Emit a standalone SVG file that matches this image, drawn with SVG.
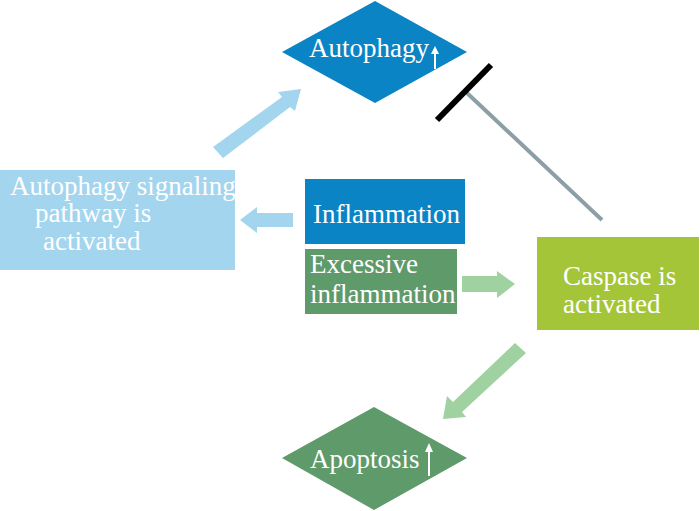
<svg xmlns="http://www.w3.org/2000/svg" width="700" height="511" viewBox="0 0 700 511">
<style>
text{font-family:'Liberation Serif','Times New Roman','DejaVu Serif',serif;font-size:27px;fill:#ffffff}
.blue{fill:#0a84c4}
.lblue{fill:#a3d5ee}
.dgreen{fill:#5f9a6b}
.lgreen{fill:#a0d1a0}
.lime{fill:#a5c539}
.up{stroke:#ffffff;stroke-width:2;fill:none}
</style>
<rect width="700" height="511" fill="#ffffff"/>
<g id="autophagy">
<polygon class="blue" points="375,1 467,52 375,103 282,52"/>
<text x="309" y="57" font-family="Liberation Serif, serif">Autophagy</text>
<line class="up" x1="435" y1="69" x2="435" y2="52"/>
<polygon fill="#ffffff" points="435,46 431,54 439,54"/>
</g>
<g id="signaling">
<rect class="lblue" x="0" y="170" width="235" height="100"/>
<text x="10" y="195" font-family="Liberation Serif, serif">Autophagy signaling</text>
<text x="35" y="222" font-family="Liberation Serif, serif">pathway is</text>
<text x="43" y="250" font-family="Liberation Serif, serif">activated</text>
</g>
<g id="inflammation">
<rect class="blue" x="305" y="179" width="160" height="65"/>
<text x="313" y="223" font-family="Liberation Serif, serif">Inflammation</text>
</g>
<g id="excessive">
<rect class="dgreen" x="305" y="249" width="152" height="65"/>
<text x="310" y="273" font-family="Liberation Serif, serif">Excessive</text>
<text x="310" y="303" font-family="Liberation Serif, serif">inflammation</text>
</g>
<g id="caspase">
<rect class="lime" x="537" y="237" width="162" height="93"/>
<text x="563" y="285" font-family="Liberation Serif, serif">Caspase is</text>
<text x="563" y="313" font-family="Liberation Serif, serif">activated</text>
</g>
<g id="apoptosis">
<polygon class="dgreen" points="374,407 467,458 374,510 282,458"/>
<text x="310" y="468" font-family="Liberation Serif, serif">Apoptosis</text>
<line class="up" x1="429" y1="476" x2="429" y2="450"/>
<polygon fill="#ffffff" points="429,443 425,452 433,452"/>
</g>
<g id="connectors">
<polygon class="lblue" points="213,147 223,158 290,107 295,111 301,89 278,92 282,97"/>
<polygon class="lblue" points="293,213 257,213 257,207 240,220 257,233 257,227 293,227"/>
<polygon class="lgreen" points="462,276 497,276 497,271 515,284 497,298 497,292 462,292"/>
<polygon class="lgreen" points="515,343 526,353 462,412 466,417 443,419 447,396 453,402"/>
<line x1="467" y1="93" x2="602" y2="220" stroke="#8c9ea6" stroke-width="4"/>
<line x1="437" y1="120" x2="491" y2="65" stroke="#000000" stroke-width="6"/>
</g>
</svg>
